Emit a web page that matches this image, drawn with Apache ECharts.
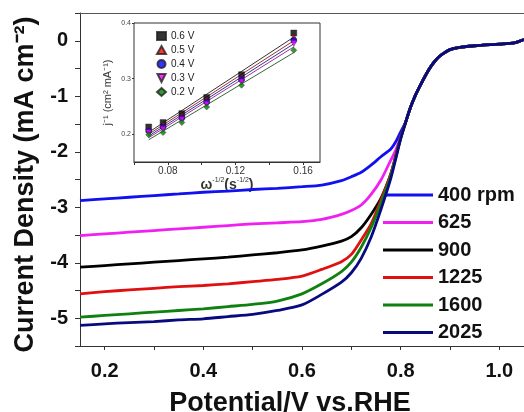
<!DOCTYPE html>
<html><head><meta charset="utf-8">
<script src="https://cdn.jsdelivr.net/npm/echarts@6/dist/echarts.min.js"></script>
<style>html,body{margin:0;padding:0;background:#fff}#c{width:524px;height:412px}</style>
</head><body><div id="c"></div>
<script>
// ---- main LSV data ----
const potential = [0.15,0.2,0.25,0.3,0.35,0.4,0.45,0.5,0.55,0.6,0.64,0.68,0.7,0.72,0.74,0.76,0.78,0.79,0.8,
                   0.81,0.82,0.83,0.84,0.85,0.86,0.87,0.88,0.89,0.9,0.92,0.95,1.0,1.03,1.04,1.05];
const tailJ = [-1.47,-1.2,-0.98,-0.8,-0.63,-0.48,-0.36,-0.27,-0.21,-0.16,-0.12,-0.09,-0.06,-0.04,-0.01,0.02];
const j400  = [-2.88,-2.85,-2.82,-2.79,-2.76,-2.73,-2.71,-2.68,-2.66,-2.63,-2.60,-2.52,-2.45,-2.37,-2.24,-2.09,-1.95,-1.82,-1.64];
const j625  = [-3.51,-3.48,-3.45,-3.42,-3.39,-3.36,-3.33,-3.30,-3.28,-3.26,-3.22,-3.13,-3.06,-2.96,-2.77,-2.51,-2.15,-1.97,-1.73];
const j900  = [-4.08,-4.05,-4.02,-3.99,-3.96,-3.93,-3.90,-3.86,-3.82,-3.77,-3.70,-3.61,-3.53,-3.37,-3.13,-2.84,-2.40,-2.08,-1.75];
const j1225 = [-4.56,-4.52,-4.49,-4.46,-4.43,-4.41,-4.38,-4.34,-4.30,-4.24,-4.12,-3.98,-3.85,-3.59,-3.30,-2.87,-2.40,-2.08,-1.75];
const j1600 = [-4.98,-4.95,-4.92,-4.89,-4.86,-4.83,-4.79,-4.75,-4.69,-4.56,-4.38,-4.16,-3.99,-3.72,-3.37,-2.93,-2.42,-2.10,-1.76];
const j2025 = [-5.13,-5.10,-5.08,-5.06,-5.03,-5.01,-4.97,-4.93,-4.86,-4.76,-4.57,-4.35,-4.18,-3.92,-3.54,-3.04,-2.48,-2.13,-1.77];
const rpmNames = ['400 rpm','625','900','1225','1600','2025'];
const rpmColors = ['#1010f0','#f020f0','#000000','#e01010','#108010','#0a0a80'];

const xTicks = [0.2,0.3,0.4,0.5,0.6,0.7,0.8,0.9,1.0];
const xLabels = [0.2,0.4,0.6,0.8,1.0];
const yTicks = [-5.5,-5,-4.5,-4,-3.5,-3,-2.5,-2,-1.5,-1,-0.5,0,0.5];
const yLabels = [-5,-4,-3,-2,-1,0];

// ---- inset Koutecky-Levich data ----
const omegaInv = [0.0687,0.0772,0.0883,0.1030,0.1236,0.1545];
const kl06 = [0.213,0.221,0.237,0.266,0.307,0.382];
const kl05 = [0.209,0.217,0.233,0.262,0.302,0.375];
const kl04 = [0.206,0.213,0.229,0.258,0.298,0.369];
const kl03 = [0.203,0.209,0.226,0.254,0.294,0.363];
const kl02 = [0.199,0.203,0.221,0.249,0.288,0.351];
const klNames = ['0.6 V','0.5 V','0.4 V','0.3 V','0.2 V'];
const klColors = ['#000000','#ff0000','#0000ff','#ff00ff','#008000'];
const klLineColors = ['#000000','#800000','#000080','#800080','#004000'];
const klSymbols = ['rect','triangle','circle','path://M0,0L10,0L5,10Z','diamond'];
const insXTicks = [0.06,0.08,0.10,0.12,0.14,0.16];
const insXLabels = [0.08,0.12,0.16];
const insYTicks = [0.2,0.3,0.4];

const FONT = '"Liberation Sans", Arial, sans-serif';
const heads = [j400,j625,j900,j1225,j1600,j2025];

function fit(xs, ys){
  const n = xs.length;
  let sx=0,sy=0,sxx=0,sxy=0;
  for(let i=0;i<n;i++){sx+=xs[i];sy+=ys[i];sxx+=xs[i]*xs[i];sxy+=xs[i]*ys[i];}
  const b=(n*sxy-sx*sy)/(n*sxx-sx*sx), a=(sy-b*sx)/n;
  const x0=xs[0], x1=xs[n-1];
  return [[x0,a+b*x0],[x1,a+b*x1]];
}

const series = [];
heads.forEach((h,i)=>{
  const ys = h.concat(tailJ);
  series.push({
    name: rpmNames[i], type:'line', xAxisIndex:0, yAxisIndex:0,
    data: potential.map((x,k)=>[x,ys[k]]),
    showSymbol:false, smooth:0.25,
    lineStyle:{color:rpmColors[i], width:2.8}, itemStyle:{color:rpmColors[i]},
    z: 2+i
  });
});
const kls = [kl06,kl05,kl04,kl03,kl02];
kls.forEach((ys,i)=>{
  series.push({
    name: 'fit'+i, type:'line', xAxisIndex:2, yAxisIndex:1,
    data: fit(omegaInv, ys), showSymbol:false,
    lineStyle:{color:klLineColors[i], width:0.8}, z:20
  });
});
kls.forEach((ys,i)=>{
  series.push({
    name: klNames[i], type:'scatter', xAxisIndex:2, yAxisIndex:1,
    data: omegaInv.map((x,k)=>[x,ys[k]]),
    symbol: klSymbols[i], symbolSize:6,
    itemStyle:{color:klColors[i], borderColor:'#222', borderWidth:0.5}, z:21
  });
});

const chart = echarts.init(document.getElementById('c'), null, {renderer:'canvas'});
chart.setOption({
  animation:false,
  backgroundColor:'#fff',
  textStyle:{fontFamily:FONT},
  grid:[
    {left:80, top:13, right:0, bottom:66, outerBoundsMode:'none', containLabel:false},
    {left:134, top:23, width:186, height:139, show:true, backgroundColor:'#fff', borderColor:'#333', borderWidth:1, z:10, outerBoundsMode:'none', containLabel:false}
  ],
  legend:[
    {data:rpmNames, orient:'vertical', left:378, top:180, itemWidth:50, itemHeight:3, itemGap:7.5, icon:'rect',
     textStyle:{fontFamily:FONT, fontSize:20, fontWeight:'bold', color:'#111', lineHeight:20}},
    {data:klNames, orient:'vertical', left:151, top:26, itemWidth:9, itemHeight:8, itemGap:4,
     textStyle:{fontFamily:FONT, fontSize:10, color:'#222', lineHeight:9}, z:30}
  ],
  xAxis:[
    {type:'value', gridIndex:0, min:0.15, max:1.05,
     name:'Potential/V vs.RHE', nameLocation:'middle', nameGap:44,
     nameTextStyle:{fontFamily:FONT, fontSize:27, fontWeight:'bold', color:'#111', padding:[0,24,0,0]},
     axisLine:{onZero:false, lineStyle:{color:'#333', width:1}},
     axisTick:{customValues:xTicks, inside:false, length:4, lineStyle:{color:'#333'}},
     axisLabel:{customValues:xLabels, formatter:v=>v.toFixed(1), margin:15, fontFamily:FONT, fontSize:20, fontWeight:'bold', color:'#111'},
     splitLine:{show:false}},
    {type:'value', gridIndex:0, position:'top', min:0.15, max:1.05,
     axisLine:{show:true, onZero:false, lineStyle:{color:'#555', width:1}}, axisTick:{show:false}, axisLabel:{show:false}, splitLine:{show:false}},
    {type:'value', gridIndex:1, min:0.06, max:0.17,
     name:'{w|ω}{s|-1/2}{w|(s}{s|-1/2}{w|)}', nameLocation:'middle', nameGap:12,
     nameTextStyle:{rich:{w:{fontFamily:FONT, fontSize:14, fontWeight:'bold', color:'#333', lineHeight:16},
                          s:{fontFamily:FONT, fontSize:7, color:'#333', lineHeight:16, verticalAlign:'top'}}},
     axisLine:{onZero:false, lineStyle:{color:'#333'}},
     axisTick:{customValues:insXTicks, length:3, lineStyle:{color:'#333'}},
     axisLabel:{customValues:insXLabels, formatter:v=>v.toFixed(2), margin:4, fontFamily:FONT, fontSize:10, color:'#333'},
     splitLine:{show:false}}
  ],
  yAxis:[
    {type:'value', gridIndex:0, min:-5.5, max:0.5,
     name:'Current Density (mA cm⁻²)', nameLocation:'middle', nameGap:36, nameRotate:90,
     nameTextStyle:{fontFamily:FONT, fontSize:27, fontWeight:'bold', color:'#111', padding:[0,10,0,0]},
     axisLine:{show:true, onZero:false, lineStyle:{color:'#333', width:1}},
     axisTick:{customValues:yTicks, length:5, lineStyle:{color:'#333'}},
     axisLabel:{customValues:yLabels, formatter:v=>String(v), margin:12, fontFamily:FONT, fontSize:20, fontWeight:'bold', color:'#111'},
     splitLine:{show:false}},
    {type:'value', gridIndex:1, min:0.15, max:0.4,
     name:'j⁻¹ (cm² mA⁻¹)', nameLocation:'middle', nameGap:21, nameRotate:90,
     nameTextStyle:{fontFamily:FONT, fontSize:11, color:'#333'},
     axisLine:{show:true, onZero:false, lineStyle:{color:'#333'}},
     axisTick:{customValues:insYTicks, length:2, lineStyle:{color:'#333'}},
     axisLabel:{customValues:insYTicks, formatter:v=>v.toFixed(1), margin:3, fontFamily:FONT, fontSize:7, color:'#444'},
     splitLine:{show:false}}
  ],
  series: series
});
</script></body></html>
